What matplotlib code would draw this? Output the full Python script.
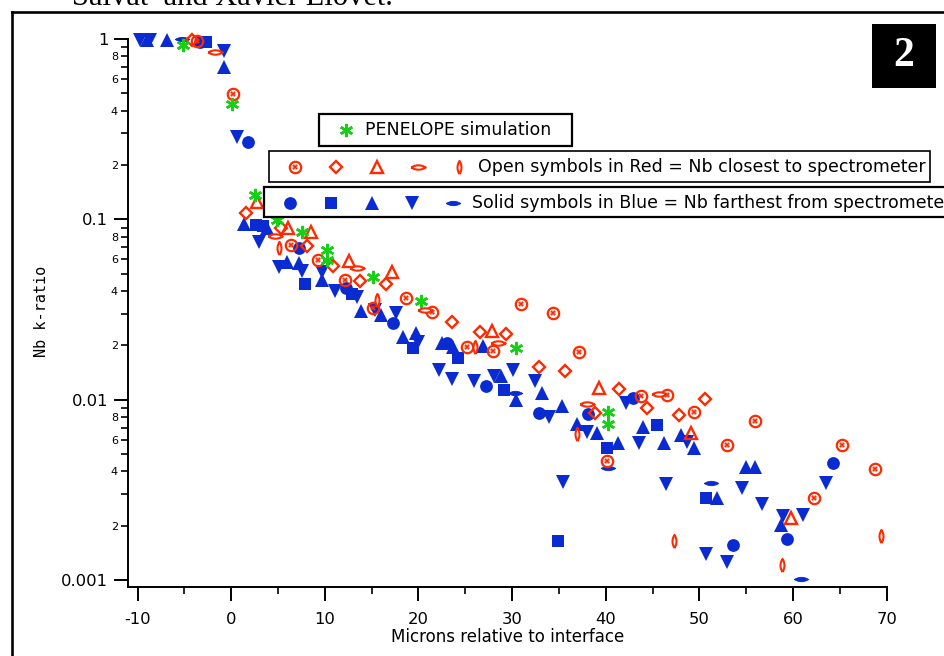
import numpy as np
import matplotlib
matplotlib.use("Agg")
import matplotlib.pyplot as plt
from matplotlib.lines import Line2D
from matplotlib.patches import Rectangle
from matplotlib.path import Path
from matplotlib.ticker import FixedLocator, LogLocator, FuncFormatter, NullFormatter

plt.rcParams['axes.unicode_minus'] = False

# ---------------- data (microns, Nb k-ratio) ----------------
pen_x = [-5.14, 0.09, 2.55, 4.9, 7.57, 10.23, 10.23, 15.15, 20.27, 30.42, 40.24, 40.24]
pen_y = [0.926, 0.436, 0.136, 0.099, 0.0851, 0.0676, 0.0595, 0.0479, 0.0352, 0.0193, 0.00853, 0.00732]

red_cx_x = [-3.6, 0.2, 6.39, 9.27, 12.16, 15.15, 18.67, 21.45, 25.18, 27.96, 30.95, 34.37,
            37.14, 43.76, 46.54, 49.42, 40.13, 52.95, 55.94, 62.24, 65.23, 68.75]
red_cx_y = [0.98, 0.495, 0.072, 0.0595, 0.0461, 0.0322, 0.0366, 0.0306, 0.0196, 0.0186, 0.0339, 0.0302,
            0.0184, 0.01047, 0.0106, 0.00853, 0.00456, 0.0056, 0.00761, 0.00285, 0.0056, 0.00412]

red_dia_x = [-4.18, 1.59, 5.32, 8.1, 10.88, 13.76, 16.53, 23.58, 26.57, 29.35, 32.87, 35.65,
             38.85, 41.41, 44.4, 47.82, 50.6]
red_dia_y = [0.987, 0.108, 0.0895, 0.0711, 0.0551, 0.0455, 0.0438, 0.0269, 0.0237, 0.0231, 0.0152, 0.0144,
             0.00843, 0.01145, 0.00898, 0.00822, 0.01008]

red_tri_x = [2.76, 6.07, 8.53, 12.58, 17.18, 27.85, 39.28, 49.1, 59.78]
red_tri_y = [0.125, 0.0895, 0.0851, 0.0587, 0.051, 0.024, 0.0116, 0.00653, 0.0022]

red_hl_x = [-1.72, 4.68, 13.44, 20.7, 28.49, 38.0, 45.69]
red_hl_y = [0.847, 0.0808, 0.0537, 0.0314, 0.0206, 0.00946, 0.01074]

red_vl_x = [5.11, 15.57, 26.04, 36.93, 47.29, 58.82, 69.39]
red_vl_y = [0.0693, 0.0357, 0.0196, 0.00645, 0.00164, 0.00121, 0.00175]

blue_circ_x = [-3.33, 1.8, 7.24, 12.26, 17.28, 23.05, 27.21, 32.87, 38.1, 42.91, 53.59, 59.35, 64.27]
blue_circ_y = [0.962, 0.268, 0.0693, 0.0416, 0.0266, 0.0206, 0.0119, 0.00843, 0.00832, 0.01021,
               0.00156, 0.00169, 0.00445]

blue_sq_x = [-2.69, 2.65, 3.4, 7.89, 12.9, 19.42, 24.22, 29.13, 34.9, 40.13, 45.47, 50.71]
blue_sq_y = [0.962, 0.093, 0.0918, 0.0438, 0.0385, 0.0193, 0.017, 0.0113, 0.00164, 0.0054, 0.00723, 0.00285]

blue_tup_x = [-8.99, -6.85, -0.76, 1.37, 3.83, 5.96, 7.24, 9.7, 13.87, 16.0, 18.35, 19.74, 22.51,
              23.69, 26.89, 28.81, 30.42, 33.19, 35.33, 36.93, 39.06, 41.31, 43.97, 46.22, 48.05,
              49.42, 51.88, 54.97, 55.94, 58.71]
blue_tup_y = [0.987, 0.987, 0.699, 0.0942, 0.0895, 0.058, 0.0572, 0.0461, 0.031, 0.0295, 0.0222, 0.0234,
              0.0206, 0.0196, 0.0198, 0.0135, 0.00995, 0.01088, 0.00922, 0.00732, 0.00653, 0.00575,
              0.00705, 0.00575, 0.00636, 0.00539, 0.00285, 0.00423, 0.00423, 0.00201]

blue_tdn_x = [-9.73, -8.67, -0.76, 0.62, 2.97, 5.11, 7.57, 9.7, 11.09, 13.44, 15.36, 17.6, 19.95,
              22.2, 23.58, 25.93, 28.07, 30.1, 32.45, 33.94, 38.0, 35.39, 42.12, 43.51, 46.43,
              48.67, 50.71, 52.95, 54.55, 56.7, 58.94, 61.08, 63.52]
blue_tdn_y = [0.987, 0.987, 0.858, 0.286, 0.0748, 0.0544, 0.0517, 0.051, 0.04, 0.0371, 0.0314, 0.0302,
              0.0209, 0.0146, 0.013, 0.0127, 0.0135, 0.0146, 0.0127, 0.008, 0.00661, 0.00349, 0.00958,
              0.00575, 0.0034, 0.00582, 0.00139, 0.00126, 0.00323, 0.00264, 0.00226, 0.00229, 0.00345]

blue_hl_x = [-5.25, 30.31, 40.24, 51.24, 60.85]
blue_hl_y = [1.0, 0.01088, 0.00418, 0.00345, 0.00101]

RED = '#ff2a00'
BLUE = '#0a2ad2'
GREEN = '#16d016'

# lens-shaped markers with pointed ends
u = np.linspace(-1, 1, 17)
top = 0.3 * (1 - u ** 2)
lx = np.concatenate([u, u[::-1][1:]])
ly = np.concatenate([top, -top[::-1][1:]])
lens_h = Path(np.column_stack([lx, ly]))
lens_v = Path(np.column_stack([ly, lx]))
asterisk = (6, 2, 0)

W, H = 945, 656
fig = plt.figure(figsize=(W / 100, H / 100), dpi=100)
fig.patch.set_facecolor('white')

def fx(px):
    return px / W

def fy(py):
    return 1 - py / H

ax = fig.add_axes([fx(127.7), fy(587), fx(886.7) - fx(127.7), fy(39) - fy(587)])

# series styles
styles = {
    'red_cx':   dict(marker='o', ms=8.2, mfc='none', mec=RED, mew=1.6),
    'red_dia':  dict(marker='D', ms=6.3, mfc='none', mec=RED, mew=1.7),
    'red_tri':  dict(marker='^', ms=8.5, mfc='none', mec=RED, mew=1.7),
    'red_hl':   dict(marker=lens_h, ms=10.5, mfc='white', mec=RED, mew=1.5),
    'red_vl':   dict(marker=lens_v, ms=9.5, mfc='white', mec=RED, mew=1.5),
    'blue_circ': dict(marker='o', ms=9.2, mfc=BLUE, mec=BLUE, mew=0),
    'blue_sq':  dict(marker='s', ms=8.9, mfc=BLUE, mec=BLUE, mew=0),
    'blue_tup': dict(marker='^', ms=10, mfc=BLUE, mec=BLUE, mew=0),
    'blue_tdn': dict(marker='v', ms=10, mfc=BLUE, mec=BLUE, mew=0),
    'blue_hl':  dict(marker=lens_h, ms=10.5, mfc=BLUE, mec=BLUE, mew=0.6),
    'pen':      dict(marker=asterisk, ms=9.5, mfc=GREEN, mec=GREEN, mew=1.8),
}
cx_inner = dict(marker='X', ms=4.2, mfc=RED, mec=RED, mew=0)

def draw(x, y, st):
    ax.plot(x, y, linestyle='none', clip_on=False, **st)

draw(blue_tup_x, blue_tup_y, styles['blue_tup'])
draw(blue_tdn_x, blue_tdn_y, styles['blue_tdn'])
draw(blue_sq_x, blue_sq_y, styles['blue_sq'])
draw(blue_circ_x, blue_circ_y, styles['blue_circ'])
draw(blue_hl_x, blue_hl_y, styles['blue_hl'])
draw(red_cx_x, red_cx_y, styles['red_cx'])
draw(red_cx_x, red_cx_y, cx_inner)
draw(red_dia_x, red_dia_y, styles['red_dia'])
draw(red_tri_x, red_tri_y, styles['red_tri'])
draw(red_hl_x, red_hl_y, styles['red_hl'])
draw(red_vl_x, red_vl_y, styles['red_vl'])
draw(pen_x, pen_y, styles['pen'])

# axes
ax.set_yscale('log')
ax.set_xlim(-11.05, 70)
ax.set_ylim(0.000915, 1.0)
ax.set_facecolor('none')
for s in ['top', 'right']:
    ax.spines[s].set_visible(False)
for s in ['left', 'bottom']:
    ax.spines[s].set_linewidth(1.4)

ax.xaxis.set_major_locator(FixedLocator(np.arange(-10, 71, 10)))
ax.xaxis.set_minor_locator(FixedLocator(np.arange(-5, 70, 10)))
ax.yaxis.set_major_locator(FixedLocator([0.001, 0.01, 0.1, 1]))
ax.yaxis.set_minor_locator(LogLocator(base=10, subs=range(2, 10), numticks=20))
ax.yaxis.set_major_formatter(FuncFormatter(lambda v, p: {1: '1', 0.1: '0.1', 0.01: '0.01', 0.001: '0.001'}.get(round(v, 4), '')))

def minor_fmt(v, p):
    m = int(round(v / 10 ** np.floor(np.log10(v) + 1e-9)))
    return str(m) if m in (2, 4, 6, 8) else ''

ax.yaxis.set_minor_formatter(FuncFormatter(minor_fmt))
ax.xaxis.set_minor_formatter(NullFormatter())

ax.tick_params(which='major', direction='out', length=10, width=1.4, labelsize=11.8, color='black')
ax.tick_params(which='minor', direction='out', length=5, width=1.2)
ax.tick_params(axis='y', which='major', pad=4)
ax.tick_params(axis='y', which='minor', labelsize=8, pad=2)
ax.tick_params(axis='x', which='major', pad=8)

ax.set_xlabel('Microns relative to interface', fontsize=12, labelpad=1)
fig.text(fx(42), fy(311), 'Nb k-ratio', rotation=90, fontsize=11, family='DejaVu Sans Mono',
         ha='center', va='center')

# page frame and caption fragment
fig.add_artist(Line2D([fx(12), fx(12)], [fy(12), 0], color='black', lw=1.9, transform=fig.transFigure))
fig.add_artist(Line2D([fx(12), 1], [fy(12), fy(12)], color='black', lw=1.9, transform=fig.transFigure))
fig.text(fx(72), fy(5), 'Salvat  and Xavier Llovet.', family='Liberation Serif', fontsize=22,
         va='baseline', ha='left')

# panel number
fig.add_artist(Rectangle((fx(872), fy(88)), fx(64), fy(24) - fy(88), facecolor='black',
                         edgecolor='none', transform=fig.transFigure))
fig.text(fx(904), fy(56), '2', color='white', family='Liberation Serif', weight='bold',
         fontsize=30, ha='center', va='center')

# legend boxes
def box(x0, y0, x1, y1, lw):
    fig.add_artist(Rectangle((fx(x0), fy(y1)), fx(x1) - fx(x0), fy(y0) - fy(y1), facecolor='white',
                             edgecolor='black', lw=lw, transform=fig.transFigure))

def key(px, py, st):
    fig.add_artist(Line2D([fx(px)], [fy(py)], linestyle='none', transform=fig.transFigure, **st))

box(319, 114, 572, 146, 1.6)
key(346, 130, styles['pen'])
fig.text(fx(365), fy(130), 'PENELOPE simulation', fontsize=12.5, va='center', ha='left')

box(269, 151, 930, 182, 1.2)
for px, name in zip([295, 336, 377, 418, 459], ['red_cx', 'red_dia', 'red_tri', 'red_hl', 'red_vl']):
    key(px, 167, styles[name])
key(295, 167, cx_inner)
fig.text(fx(478), fy(167), 'Open symbols in Red = Nb closest to spectrometer', fontsize=12.5,
         va='center', ha='left')

box(264, 187, 960, 217, 1.6)
for px, name in zip([290, 331, 372, 412, 453], ['blue_circ', 'blue_sq', 'blue_tup', 'blue_tdn', 'blue_hl']):
    key(px, 203, styles[name])
fig.text(fx(472), fy(203), 'Solid symbols in Blue = Nb farthest from spectrometer', fontsize=12.5,
         va='center', ha='left')

fig.savefig('out.png', dpi=100)
